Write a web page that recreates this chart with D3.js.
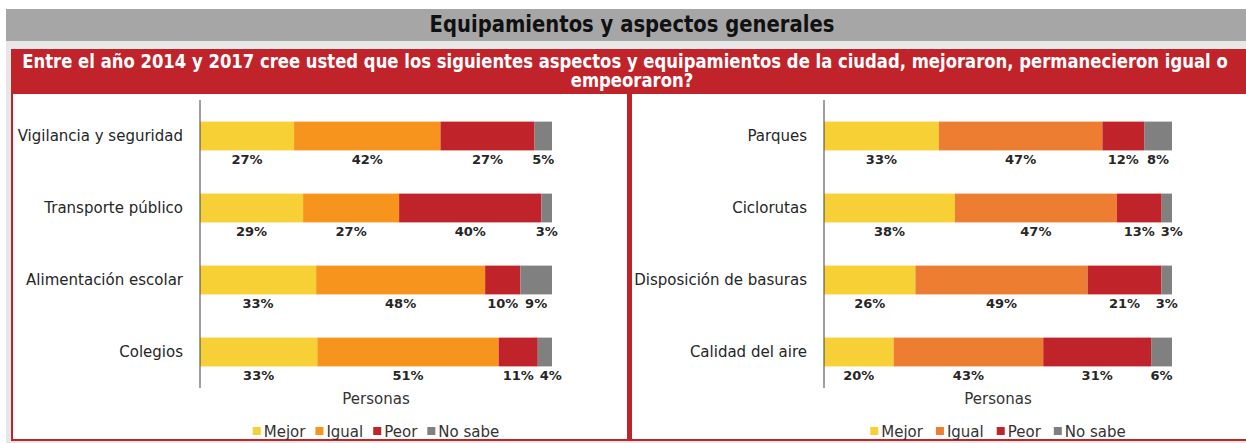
<!DOCTYPE html>
<html><head><meta charset="utf-8">
<script src="https://cdn.jsdelivr.net/npm/d3@7"></script>
<style>
html,body{margin:0;padding:0;background:#fff;}
svg{display:block;font-family:"DejaVu Sans",Verdana,sans-serif;}
</style></head>
<body><svg id="chart" width="1246" height="443"></svg>
<script>
// ---- data ----
const titleText = "Equipamientos y aspectos generales";
const questionLine1 = "Entre el año 2014 y 2017 cree usted que los siguientes aspectos y equipamientos de la ciudad, mejoraron, permanecieron igual o";
const questionLine2 = "empeoraron?";
const axisTitle = "Personas";
const seriesKeys = ["Mejor", "Igual", "Peor", "No sabe"];

const leftCategories = ["Vigilancia y seguridad", "Transporte público", "Alimentación escolar", "Colegios"];
const leftMejor  = [27, 29, 33, 33];
const leftIgual  = [42, 27, 48, 51];
const leftPeor   = [27, 40, 10, 11];
const leftNoSabe = [5, 3, 9, 4];

const rightCategories = ["Parques", "Ciclorutas", "Disposición de basuras", "Calidad del aire"];
const rightMejor  = [33, 38, 26, 20];
const rightIgual  = [47, 47, 49, 43];
const rightPeor   = [12, 13, 21, 31];
const rightNoSabe = [8, 3, 3, 6];

// ---- drawing ----
const svg = d3.select("#chart");
const RED = "#C1232B";

// frame backgrounds
svg.append("rect").attr("x", 6).attr("y", 9).attr("width", 1240).attr("height", 434).attr("fill", "#E7E7E7");
svg.append("rect").attr("x", 6).attr("y", 9).attr("width", 1240).attr("height", 32).attr("fill", "#A6A6A6");
svg.append("rect").attr("x", 11).attr("y", 49).attr("width", 1235).attr("height", 44).attr("fill", RED);

// title (condensed)
(function(){
  const t = svg.append("text").attr("text-anchor", "middle").attr("font-size", 23).attr("font-weight", "bold")
    .attr("fill", "#111").text(titleText);
  const sx = 405 / t.node().getComputedTextLength();
  t.attr("transform", `translate(632,32) scale(${sx},1)`);
})();
// question lines share one compression factor
(function(){
  const t1 = svg.append("text").attr("text-anchor", "middle").attr("font-size", 19).attr("font-weight", "bold").attr("fill", "#fff").text(questionLine1);
  const sx = 1206 / t1.node().getComputedTextLength();
  t1.attr("transform", `translate(625,68) scale(${sx},1)`);
  svg.append("text").attr("text-anchor", "middle").attr("font-size", 19).attr("font-weight", "bold").attr("fill", "#fff")
    .attr("transform", `translate(632,87) scale(${sx},1)`).text(questionLine2);
})();

// panels
svg.append("rect").attr("x", 12).attr("y", 93).attr("width", 1240).attr("height", 347)
  .attr("fill", "#fff").attr("stroke", RED).attr("stroke-width", 2);
svg.append("rect").attr("x", 627).attr("y", 93).attr("width", 5).attr("height", 348).attr("fill", RED);

function drawPanel(cfg) {
  const rows = cfg.categories.map((c, i) => ({
    cat: c, "Mejor": cfg.mejor[i], "Igual": cfg.igual[i], "Peor": cfg.peor[i], "No sabe": cfg.noSabe[i]
  }));
  const stacked = d3.stack().keys(seriesKeys).offset(d3.stackOffsetExpand)(rows);
  const x = d3.scaleLinear().domain([0, 1]).range([cfg.x0, cfg.x1]);
  const y = d3.scaleBand().domain(cfg.categories).range([100, 388]).paddingInner(0.6).paddingOuter(0.3);
  const color = d3.scaleOrdinal().domain(seriesKeys).range(cfg.colors);
  const g = svg.append("g");

  g.selectAll("g.series").data(stacked).join("g").attr("class", "series")
    .attr("fill", d => color(d.key))
    .selectAll("rect").data(d => d).join("rect")
    .attr("x", d => x(d[0])).attr("width", d => x(d[1]) - x(d[0]))
    .attr("y", d => y(d.data.cat)).attr("height", y.bandwidth());

  // value labels, centred under each segment; nudged right if they would collide
  const lblG = g.append("g");
  cfg.categories.forEach((cat, ci) => {
    let prevRight = -Infinity;
    stacked.forEach(s => {
      const v = s[ci];
      const t = lblG.append("text")
        .attr("y", y(cat) + y.bandwidth() + 14)
        .attr("text-anchor", "middle").attr("font-size", 13).attr("font-weight", "bold").attr("fill", "#262626")
        .text(v.data[s.key] + "%");
      const w = t.node().getComputedTextLength();
      let cx = x((v[0] + v[1]) / 2);
      if (cx - w / 2 < prevRight + 6) cx = prevRight + 6 + w / 2;
      t.attr("x", cx);
      prevRight = cx + w / 2;
    });
  });

  // vertical axis
  const axis = d3.axisLeft(y).tickSize(0).tickPadding(17);
  const ax = g.append("g").attr("transform", `translate(${cfg.x0},0)`).call(axis);
  ax.select(".domain").attr("stroke", "#404040").attr("d", `M0,100V388`);
  ax.selectAll("text").attr("font-size", 15).attr("fill", "#262626").attr("font-family", "DejaVu Sans, Verdana, sans-serif").attr("dy", "0.35em");

  const cx = (cfg.x0 + cfg.x1) / 2;
  g.append("text").attr("x", cx).attr("y", 404).attr("text-anchor", "middle").attr("font-size", 15).attr("fill", "#333").text(axisTitle);

  // legend
  const lg = g.append("g");
  let pos = 0;
  seriesKeys.forEach((k, i) => {
    const item = lg.append("g").attr("transform", `translate(${pos},0)`);
    item.append("rect").attr("x", 0).attr("y", 427).attr("width", 8).attr("height", 8).attr("fill", color(k));
    const t = item.append("text").attr("x", 11).attr("y", 437).attr("font-size", 15).attr("fill", "#333").text(k);
    pos += 11 + t.node().getComputedTextLength() + cfg.legendGap;
  });
  const total = pos - cfg.legendGap;
  lg.attr("transform", `translate(${cx - total / 2},0)`);
}

drawPanel({categories: leftCategories, mejor: leftMejor, igual: leftIgual, peor: leftPeor, noSabe: leftNoSabe,
  x0: 200, x1: 552, colors: ["#F6D035", "#F7941E", RED, "#808080"], legendGap: 10});
drawPanel({categories: rightCategories, mejor: rightMejor, igual: rightIgual, peor: rightPeor, noSabe: rightNoSabe,
  x0: 824, x1: 1172, colors: ["#F6D035", "#ED7D31", RED, "#808080"], legendGap: 13});
</script></body></html>
